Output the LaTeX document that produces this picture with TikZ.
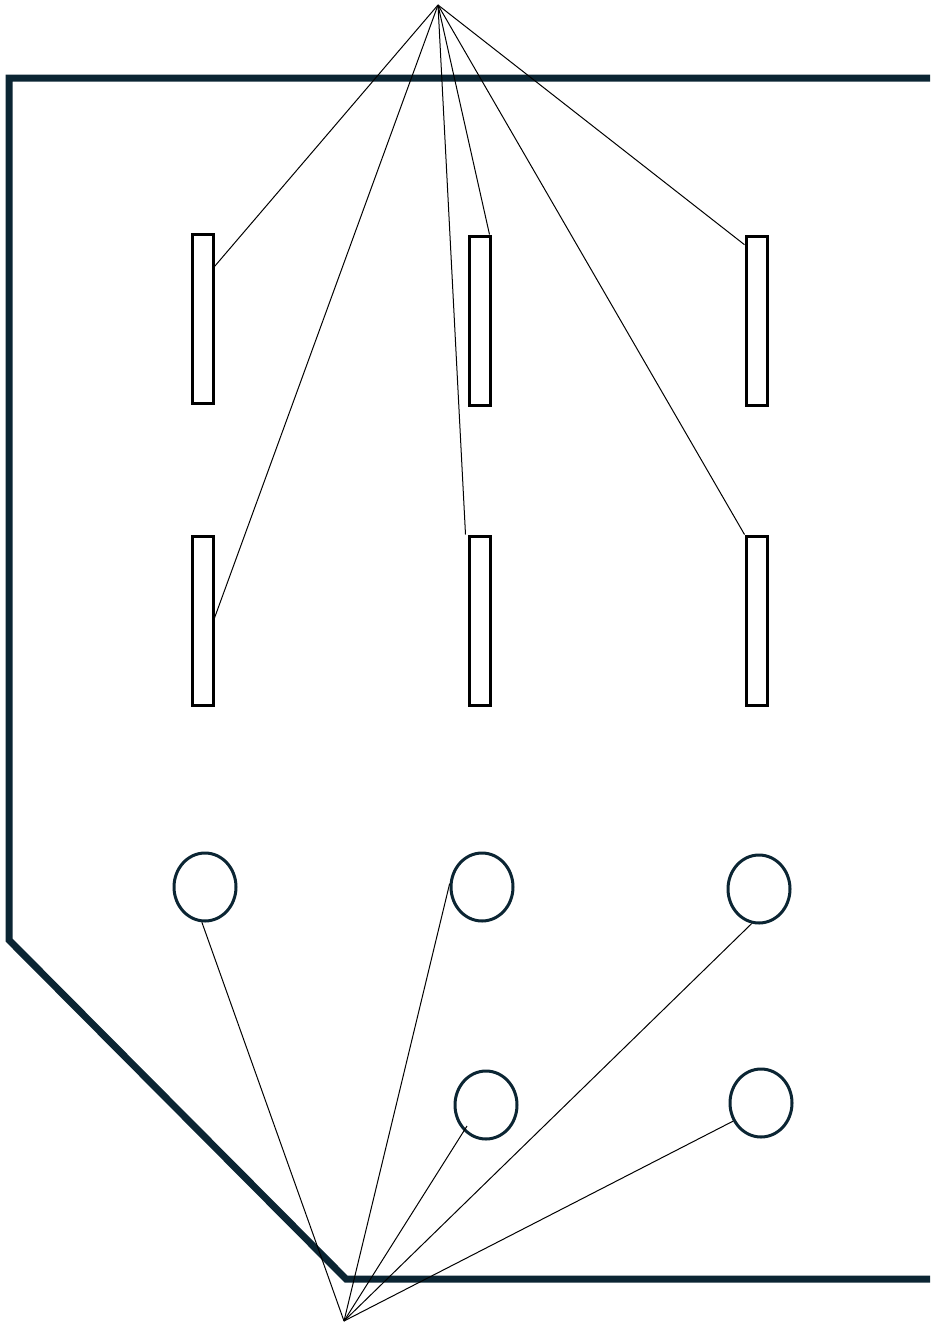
\documentclass[tikz,border=0pt]{standalone}
\usetikzlibrary{shapes.geometric,calc}
\definecolor{navy}{HTML}{0B2533}
\begin{document}
\begin{tikzpicture}[x=1pt,y=-1pt,
  bar/.style={draw=black,line width=3pt,minimum width=21pt,minimum height=169pt,inner sep=0pt,fill=white},
  ring/.style={ellipse,draw=navy,line width=3pt,minimum width=62pt,minimum height=68pt,inner sep=0pt},
  wire/.style={draw=black,line width=1pt},
  hull/.style={draw=navy,line width=7pt,miter limit=10}]
\useasboundingbox (0,0) rectangle (930,1322);
\draw[hull] (930,78) -- (9,78) -- (9,940) -- (346,1279) -- (930,1279);
\node[bar] (r1) at (202.5,318.5) {};
\node[bar] (r2) at (479.5,320.5) {};
\node[bar] (r3) at (756.5,320.5) {};
\node[bar] (r4) at (202.5,620.5) {};
\node[bar] (r5) at (479.5,620.5) {};
\node[bar] (r6) at (756.5,620.5) {};
\node[ring] (c1) at (205,887) {};
\node[ring] (c2) at (482,887) {};
\node[ring] (c3) at (759,889) {};
\node[ring] (c4) at (486,1105) {};
\node[ring] (c5) at (761,1103) {};
\coordinate (top) at (438,5);
\coordinate (bot) at (344,1321);
\coordinate (c4in) at ($(c4.center)+(-19,21)$);
\draw[wire] (top) -- (r1.77);
\draw[wire] (top) -- (r4.12);
\draw[wire] (top) -- ($(r5.north west)+(-2,0)$);
\draw[wire] (top) -- ($(r2.north east)+(-2,0)$);
\draw[wire] (top) -- (r6.north west);
\draw[wire] (top) -- (r3.99);
\draw[wire] (bot) -- (c1.265);
\draw[wire] (bot) -- (c2.174);
\draw[wire] (bot) -- (c4in);
\draw[wire] (bot) -- (c3.258);
\draw[wire] (bot) -- (c5.213);
\end{tikzpicture}
\end{document}
